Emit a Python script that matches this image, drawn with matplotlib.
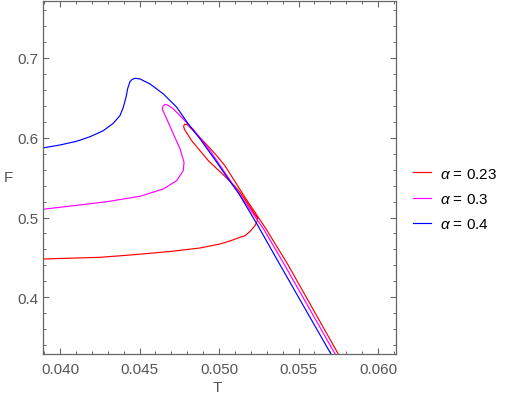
import matplotlib
matplotlib.use("Agg")
import matplotlib.pyplot as plt
from matplotlib.ticker import MultipleLocator

plt.rcParams['font.family'] = ['Liberation Sans', 'DejaVu Sans']
plt.rcParams['mathtext.fontset'] = 'custom'
plt.rcParams['mathtext.rm'] = 'Liberation Sans'
plt.rcParams['mathtext.it'] = 'Liberation Sans:italic'

# values
t_blue = [0.03891, 0.04000, 0.04105, 0.04189, 0.04272, 0.04335, 0.04377, 0.04398,
          0.04415, 0.04426, 0.04440, 0.04453, 0.04472, 0.04503, 0.04566, 0.04650,
          0.04734, 0.04807, 0.04881, 0.04986, 0.05058, 0.05126, 0.05242, 0.05377,
          0.05704]
f_blue = [0.5872, 0.5909, 0.5956, 0.6013, 0.6088, 0.6181, 0.6277, 0.6382,
          0.6507, 0.6620, 0.6703, 0.6730, 0.6745, 0.6737, 0.6674, 0.6549,
          0.6382, 0.6172, 0.5984, 0.5692, 0.5483, 0.5295, 0.4906, 0.4430,
          0.3289]

t_magenta = [0.03891, 0.04084, 0.04294, 0.04503, 0.04650, 0.04734, 0.04775, 0.04780,
             0.04755, 0.04713, 0.04671, 0.04643, 0.04648, 0.04660, 0.04679, 0.04713,
             0.04775, 0.04813, 0.04838, 0.04943, 0.05066, 0.05149, 0.05280, 0.05409,
             0.05730]
f_magenta = [0.5103, 0.5148, 0.5198, 0.5266, 0.5358, 0.5462, 0.5587, 0.5692,
             0.5859, 0.6047, 0.6235, 0.6361, 0.6398, 0.6417, 0.6408, 0.6361,
             0.6235, 0.6151, 0.6104, 0.5840, 0.5477, 0.5232, 0.4856, 0.4417,
             0.3289]

t_red = [0.03891, 0.04252, 0.04461, 0.04692, 0.04881, 0.05006, 0.05069, 0.05132,
         0.05164, 0.05195, 0.05226, 0.05241, 0.05242,
         0.05223, 0.05195, 0.05164, 0.05132, 0.05101, 0.05038, 0.04933, 0.04828,
         0.04783, 0.04777, 0.04783, 0.04799,
         0.04849, 0.04933, 0.04986, 0.05038, 0.05090, 0.05170, 0.05233, 0.05296,
         0.05431, 0.05750]
f_red = [0.4480, 0.4501, 0.4533, 0.4574, 0.4618, 0.4668, 0.4706, 0.4752,
         0.4772, 0.4825, 0.4898, 0.4960, 0.4994,
         0.5044, 0.5128, 0.5220, 0.5314, 0.5389, 0.5514, 0.5712, 0.5963,
         0.6104, 0.6141, 0.6169, 0.6166,
         0.6068, 0.5890, 0.5774, 0.5646, 0.5483, 0.5232, 0.5044, 0.4856,
         0.4417, 0.3289]

labels = [r'$\alpha$ = 0.23', r'$\alpha$ = 0.3', r'$\alpha$ = 0.4']

frame_col = '#666666'
text_col = '#555555'

fig = plt.figure(figsize=(5.1, 4.02), dpi=100)
ax = fig.add_axes([43 / 510, 1 - 355 / 402, 353 / 510, 353 / 402])

ax.plot(t_red, f_red, color='#ff0000', lw=0.85, label=labels[0])
ax.plot(t_magenta, f_magenta, color='#ff00ff', lw=0.85, label=labels[1])
ax.plot(t_blue, f_blue, color='#0000ff', lw=0.85, label=labels[2])

ax.set_xlim(0.03893, 0.06113)
ax.set_ylim(0.3289, 0.7714)

ax.xaxis.set_major_locator(MultipleLocator(0.005))
ax.xaxis.set_minor_locator(MultipleLocator(0.001))
ax.yaxis.set_major_locator(MultipleLocator(0.1))
ax.yaxis.set_minor_locator(MultipleLocator(0.02))
ax.xaxis.set_major_formatter(plt.FuncFormatter(lambda v, p: f'{v:.3f}'))
ax.yaxis.set_major_formatter(plt.FuncFormatter(lambda v, p: f'{v:.1f}'))

ax.tick_params(which='both', direction='in', top=True, right=True,
               color=frame_col, labelcolor=text_col, labelsize=11)
ax.tick_params(which='major', length=4.5, width=0.8)
ax.tick_params(which='minor', length=2.5, width=0.7)
ax.tick_params(axis='x', pad=6)
for s in ax.spines.values():
    s.set_color(frame_col)
    s.set_linewidth(0.9)

ax.text(0.493, -0.093, 'T', transform=ax.transAxes, ha='center', va='center',
        color=text_col, fontsize=11)
ax.text(-0.099, 0.501, 'F', transform=ax.transAxes, ha='center', va='center',
        color=text_col, fontsize=11)

fig.legend(loc='center left', bbox_to_anchor=(413 / 510, 1 - 200 / 402),
           frameon=False, fontsize=11, handlelength=1.2, handletextpad=0.6,
           labelspacing=0.75, borderpad=0, borderaxespad=0)

fig.savefig('out.png', dpi=100)
